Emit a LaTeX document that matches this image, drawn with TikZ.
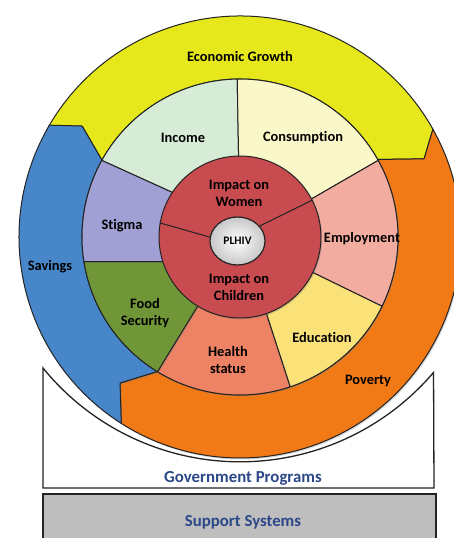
\documentclass[tikz,border=0pt]{standalone}
\usepackage{fontspec}
\setmainfont{Carlito}[Ligatures=NoCommon]
\usetikzlibrary{shapes.geometric,shadows}
\definecolor{ringYellow}{RGB}{230,232,28}
\definecolor{ringBlue}{RGB}{72,134,202}
\definecolor{ringOrange}{RGB}{242,122,22}
\definecolor{segIncome}{RGB}{214,236,214}
\definecolor{segConsumption}{RGB}{250,247,200}
\definecolor{segEmployment}{RGB}{242,172,160}
\definecolor{segEducation}{RGB}{250,225,120}
\definecolor{segHealth}{RGB}{238,130,100}
\definecolor{segFood}{RGB}{112,150,56}
\definecolor{segStigma}{RGB}{160,160,212}
\definecolor{coreRed}{RGB}{200,75,80}
\definecolor{boxGray}{RGB}{190,190,190}
\definecolor{labelBlue}{RGB}{44,72,136}
\definecolor{edgeDark}{RGB}{35,35,35}

\begin{document}
\begin{tikzpicture}[
  x=1pt, y=1pt,
  every node/.style={font=\fontsize{14.4}{17}\selectfont\bfseries, align=center},
  piece/.style={
    fill=#1,
    draw=edgeDark,
    line width=1pt,
    line join=round,
    drop shadow={opacity=0.3, shadow xshift=1.2pt, shadow yshift=-1.5pt}
  },
  frame/.style={draw=edgeDark, line width=1.3pt},
  boxlabel/.style={text=labelBlue, font=\fontsize{16.8}{20}\selectfont\bfseries}
]
  \useasboundingbox (-240,-301) rectangle (214,237);

  % bottom boxes
  \path[frame, fill=white] (-197,-251) -- (-197,-131)
    arc[start angle=219.1, end angle=319.6, radius=254] -- (194,-251) -- cycle;
  \path[frame, fill=boxGray] (-197,-310) rectangle (196,-257);

  % outer ring of three chevron arrows, all turning clockwise
  \path[piece=ringYellow] (150:221) arc[start angle=150, end angle=29.2, radius=221]
    -- (23:200) -- (29.4:158) arc[start angle=29.4, end angle=150.9, radius=158]
    -- (144.9:193) -- cycle;
  \path[piece=ringOrange] (29.2:221) arc[start angle=29.2, end angle=-122.5, radius=221]
    -- (-129.4:189) -- (-121.6:158) arc[start angle=-121.6, end angle=29.4, radius=158]
    -- (23:200) -- cycle;
  \path[piece=ringBlue] (237.5:221) arc[start angle=237.5, end angle=149.6, radius=221]
    -- (144.9:193) -- (150.9:158) arc[start angle=150.9, end angle=238.4, radius=158]
    -- (230.6:189) -- cycle;

  % middle ring: inner/outer angle of each side, then colour
  \foreach \pi/\po/\qi/\qo/\col in {
      146.5/151/91/91/segIncome,
      91/91/28/29/segConsumption,
      28/29/-26/-26/segEmployment,
      -26/-26/-71/-71.5/segEducation,
      -71/-71.5/-121.5/-121.5/segHealth,
      -121.5/-121.5/-162/-171/segFood,
      -162/-171/-213.5/-209/segStigma}
    \path[piece=\col] (\pi:80) -- (\po:158)
      arc[start angle=\po, end angle=\qo, radius=158]
      -- (\qi:80) arc[start angle=\qi, end angle=\pi, radius=80] -- cycle;

  % core
  \node[circle, piece=coreRed, minimum size=162, inner sep=0] (core) at (0,0) {};
  \node[ellipse, draw=edgeDark, line width=1.2pt, inner color=white, outer color=black!22,
    minimum width=55, minimum height=48, inner sep=0,
    font=\fontsize{11.5}{13}\selectfont\bfseries] (plhiv) at (-2.5,-4) {PLHIV};
  \draw[edgeDark, line width=1pt] (plhiv.172) -- (core.170);
  \draw[edgeDark, line width=1pt] (plhiv.34) -- (core.27);

  % labels
  \node (women) at (-1,44) {Impact on\\Women};
  \node (children) at (-1,-50) {Impact on\\Children};
  \node (income) at (-57,99) {Income};
  \node (consumption) at (63,99) {Consumption};
  \node (employment) at (122,-2) {Employment};
  \node (education) at (82,-100) {Education};
  \node (health) at (-12,-123) {Health\\status};
  \node (food) at (-95,-76) {Food\\Security};
  \node (stigma) at (-118,11) {Stigma};
  \node (growth) at (0,180) {Economic Growth};
  \node (poverty) at (128,-144) {Poverty};
  \node (savings) at (-190,-30) {Savings};
  \node[boxlabel] (govt) at (3,-241) {Government Programs};
  \node[boxlabel] (support) at (3,-285) {Support Systems};
\end{tikzpicture}
\end{document}
